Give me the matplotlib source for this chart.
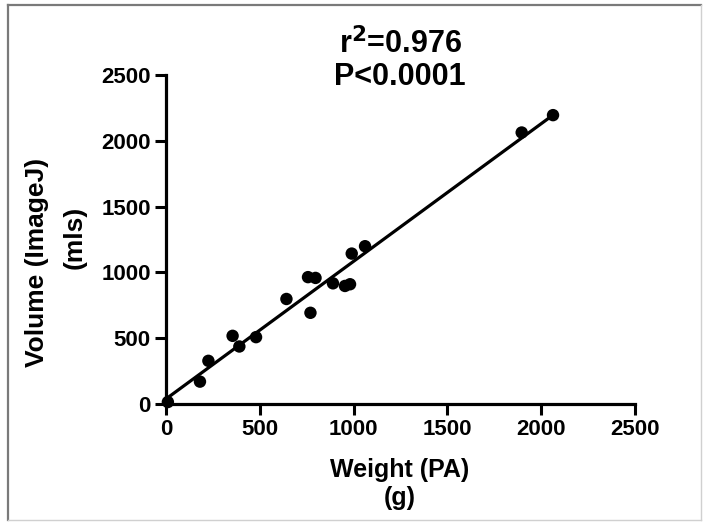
import numpy as np
import matplotlib
matplotlib.use('Agg')
import matplotlib.pyplot as plt
from matplotlib.lines import Line2D

# weight (PA) in g vs volume (ImageJ) in mls
weight = [10, 181, 226, 355, 391, 480, 642, 757, 797, 770, 890, 954, 981, 990, 1061, 1896, 2063]
volume = [15, 170, 328, 518, 437, 508, 798, 964, 958, 693, 917, 897, 910, 1143, 1199, 2063, 2195]
ticks = [0, 500, 1000, 1500, 2000, 2500]

plt.rcParams['font.family'] = ['Liberation Sans', 'DejaVu Sans']
plt.rcParams['font.weight'] = 'bold'

W, H = 705, 524
fig = plt.figure(figsize=(W / 100, H / 100), dpi=100)
ax = fig.add_axes([166 / W, 1 - 404 / H, (635 - 166) / W, (404 - 75) / H])

x = np.array(weight)
y = np.array(volume)
slope, intercept = np.polyfit(x, y, 1)
xl = np.array([x.min(), x.max()])
ax.plot(xl, slope * xl + intercept, color='black', lw=2.3, clip_on=False, zorder=2)
ax.scatter(x, y, s=80, color='black', zorder=3, clip_on=False, edgecolors='none')

ax.set_xlim(0, 2500)
ax.set_ylim(0, 2500)
ax.set_xticks(ticks)
ax.set_yticks(ticks)
ax.spines['top'].set_visible(False)
ax.spines['right'].set_visible(False)
for s in ['left', 'bottom']:
    ax.spines[s].set_linewidth(2.3)
ax.tick_params(direction='out', length=8, width=2.2, labelsize=16, pad=3)
for lab in ax.get_xticklabels() + ax.get_yticklabels():
    lab.set_fontweight('bold')

# axis titles, two lines each
fig.text(400 / W, 1 - 470 / H, 'Weight (PA)', ha='center', va='center', fontsize=18, fontweight='bold')
fig.text(400 / W, 1 - 498 / H, '(g)', ha='center', va='center', fontsize=18, fontweight='bold')
fig.text(37 / W, 1 - 262 / H, 'Volume (ImageJ)', ha='center', va='center', rotation=90, fontsize=19, fontweight='bold')
fig.text(75 / W, 1 - 237 / H, '(mls)', ha='center', va='center', rotation=90, fontsize=19, fontweight='bold')

# statistics
fig.text(400 / W, 1 - 44 / H, r'r$^\mathbf{2}$=0.976', ha='center', va='center', fontsize=22, fontweight='bold')
fig.text(400 / W, 1 - 77 / H, 'P<0.0001', ha='center', va='center', fontsize=22, fontweight='bold')

# frame around the picture
fig.add_artist(Line2D([8 / W, 8 / W], [1 - 5 / H, 1 - 520 / H], color='#7a7a7a', lw=1.6))
fig.add_artist(Line2D([8 / W, 701 / W], [1 - 5 / H, 1 - 5 / H], color='#7a7a7a', lw=1.6))
fig.add_artist(Line2D([701 / W, 701 / W], [1 - 5 / H, 1 - 520 / H], color='#d0d0d0', lw=1.0))
fig.add_artist(Line2D([8 / W, 701 / W], [1 - 520 / H, 1 - 520 / H], color='#d0d0d0', lw=1.0))

fig.savefig('out.png', dpi=100)
